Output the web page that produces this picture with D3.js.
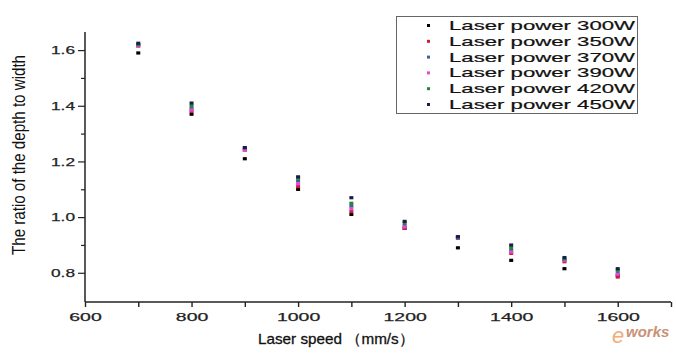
<!DOCTYPE html>
<html><head><meta charset="utf-8">
<script src="https://cdn.jsdelivr.net/npm/d3@7"></script>
<style>body{margin:0;background:#fff}svg{display:block}text{font-family:"Liberation Sans",Arial,sans-serif}</style>
</head><body>
<script>
const speeds = [700, 800, 900, 1000, 1100, 1200, 1300, 1400, 1500, 1600];
const seriesNames = ["Laser power 300W","Laser power 350W","Laser power 370W","Laser power 390W","Laser power 420W","Laser power 450W"];
const p300 = [1.59, 1.37, 1.21, 1.10, 1.01, 0.96, 0.89, 0.845, 0.815, 0.79];
const p350 = [1.615, 1.38, 1.24, 1.11, 1.02, 0.96, 0.925, 0.87, 0.84, 0.785];
const p370 = [1.62, 1.39, 1.245, 1.13, 1.04, 0.97, 0.925, 0.88, 0.845, 0.80];
const p390 = [1.615, 1.385, 1.24, 1.12, 1.03, 0.965, 0.93, 0.875, 0.845, 0.795];
const p420 = [1.62, 1.40, 1.25, 1.14, 1.05, 0.98, 0.93, 0.89, 0.85, 0.81];
const p450 = [1.625, 1.41, 1.25, 1.145, 1.07, 0.985, 0.93, 0.90, 0.855, 0.815];
const xTicks = [600, 700, 800, 900, 1000, 1100, 1200, 1300, 1400, 1500, 1600, 1700];
const xTickLabels = ["600", "", "800", "", "1000", "", "1200", "", "1400", "", "1600", ""];
const yTicks = [0.8, 0.9, 1.0, 1.1, 1.2, 1.3, 1.4, 1.5, 1.6];
const yTickLabels = ["0.8", "", "1.0", "", "1.2", "", "1.4", "", "1.6"];
const colors = ["#000000", "#d01a3a", "#3f5f9f", "#e04ad8", "#1e8a2e", "#1c1c4c"];
const allSeries = [p300, p350, p370, p390, p420, p450];

const W = 676, H = 353;
const svg = d3.select("body").append("svg").attr("width", W).attr("height", H);
const x = d3.scaleLinear().domain([600, 1700]).range([85, 671]);
const y = d3.scaleLinear().domain([0.695, 1.665]).range([302, 32]);

// axes
const xAxis = d3.axisBottom(x).tickValues(xTicks).tickSize(5).tickFormat((d, i) => xTickLabels[i]);
const gx = svg.append("g").attr("transform", "translate(0,302)").call(xAxis);
gx.select(".domain").attr("stroke", "#222").attr("stroke-width", 1.5).attr("d", "M85,0H671");
gx.selectAll(".tick line").attr("stroke", "#222").attr("stroke-width", 1.4);
gx.selectAll(".tick text").attr("font-size", 11.5).attr("fill", "#222").attr("stroke", "#222").attr("stroke-width", 0.25).attr("dy", "0.95em")
  .each(function(d, i) { const t = xTickLabels[i]; if (t) d3.select(this).attr("textLength", t.length * 10.8).attr("lengthAdjust", "spacingAndGlyphs"); });

const yAxis = d3.axisLeft(y).tickValues(yTicks).tickSize(6).tickFormat((d, i) => yTickLabels[i]);
const gy = svg.append("g").attr("transform", "translate(85,0)").call(yAxis);
gy.select(".domain").attr("stroke", "#222").attr("stroke-width", 1.5).attr("d", "M0," + y(1.665) + "V302");
gy.selectAll(".tick line").attr("stroke", "#222").attr("stroke-width", 1.2).attr("x2", (d, i) => yTickLabels[i] ? -7 : -4);
gy.selectAll(".tick text").attr("font-size", 11.5).attr("fill", "#222").attr("stroke", "#222").attr("stroke-width", 0.25).attr("x", -10)
  .each(function(d, i) { const t = yTickLabels[i]; if (t) d3.select(this).attr("textLength", 24).attr("lengthAdjust", "spacingAndGlyphs"); });

// axis titles
svg.append("text").attr("transform", "translate(25,155) rotate(-90)").attr("text-anchor", "middle")
  .attr("font-size", 18.5).attr("fill", "#111").attr("textLength", 200).attr("lengthAdjust", "spacingAndGlyphs")
  .text("The ratio of the depth to width");
svg.append("text").attr("x", 258).attr("y", 344).attr("font-size", 15).attr("fill", "#111").attr("stroke", "#111").attr("stroke-width", 0.3)
  .attr("textLength", 156).attr("lengthAdjust", "spacingAndGlyphs").text("Laser speed （mm/s）");

// points
allSeries.forEach((vals, si) => {
  svg.append("g").selectAll("rect").data(vals).join("rect")
    .attr("x", (d, i) => x(speeds[i]) - 2).attr("y", d => y(d) - 1.5)
    .attr("width", 4).attr("height", 3.2).attr("fill", colors[si]);
});

// legend
const lg = svg.append("g");
lg.append("rect").attr("x", 396.5).attr("y", 16.5).attr("width", 241).attr("height", 97)
  .attr("fill", "#fff").attr("stroke", "#666").attr("stroke-width", 1);
seriesNames.forEach((name, i) => {
  const cy = 25 + i * 15.8;
  lg.append("rect").attr("x", 427).attr("y", cy - 1).attr("width", 3).attr("height", 3).attr("fill", colors[i]);
  lg.append("text").attr("x", 449).attr("y", cy + 5).attr("font-size", 13).attr("fill", "#111").attr("stroke", "#111").attr("stroke-width", 0.2)
    .attr("textLength", 186).attr("lengthAdjust", "spacingAndGlyphs").text(name);
});

// watermark
svg.append("text").attr("x", 612).attr("y", 343).attr("font-size", 22).attr("font-style", "italic")
  .attr("font-family", "Liberation Serif, serif").attr("fill", "#f0a060").attr("opacity", 0.85).text("e");
svg.append("text").attr("x", 626).attr("y", 337).attr("font-size", 15).attr("font-style", "italic").attr("font-weight", "bold")
  .attr("font-family", "Liberation Serif, serif").attr("fill", "#c08060").attr("opacity", 0.85).text("works");
</script>
</body></html>
